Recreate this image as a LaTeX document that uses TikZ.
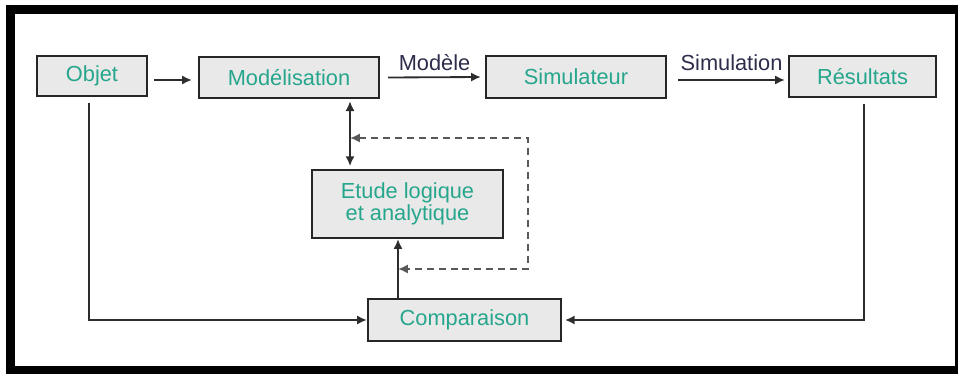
\documentclass[tikz,border=0pt]{standalone}
\usepackage{fontspec}
\setmainfont{Liberation Sans}
\usepackage{xcolor}
\usetikzlibrary{arrows.meta}
\definecolor{texte}{RGB}{38,166,140}
\definecolor{fond}{RGB}{233,233,233}
\definecolor{trait}{RGB}{45,45,45}
\definecolor{etiq}{RGB}{45,45,75}
\begin{document}
\begin{tikzpicture}[x=0.025cm,y=-0.025cm,
  bloc/.style={draw=black!85,line width=1.5pt,fill=fond,inner sep=0pt,text=texte,
    font=\fontsize{15.5}{15.6}\selectfont,align=center},
  arr/.style={draw=trait,line width=1.3pt,-{Latex[length=7pt,width=6.5pt]}},
  arrd/.style={arr,{Latex[length=7pt,width=6.5pt]}-{Latex[length=7pt,width=6.5pt]}},
  pointill/.style={arrd,draw=black!65,dash pattern=on 5pt off 3.5pt},
  etiquette/.style={inner sep=0pt,text=etiq,font=\fontsize{15.5}{18}\selectfont}]
\clip (0,0) rectangle (958,374);
\draw [line width=5.7pt] (10.5,9.5) rectangle (959,370.5);
\node [bloc,minimum width=2.75cm,minimum height=1cm] (objet) at (92,76) {Objet};
\node [bloc,minimum width=4.5cm,minimum height=1.025cm] (model) at (289,77.5) {Modélisation};
\node [bloc,minimum width=4.5cm,minimum height=1.05cm] (simu) at (576,77) {Simulateur};
\node [bloc,minimum width=3.675cm,minimum height=1.025cm] (result) at (862.5,76.5) {Résultats};
\node [bloc,minimum width=4.775cm,minimum height=1.7cm] (etude) at (407.5,204) {Etude logique\\et analytique};
\node [bloc,minimum width=4.825cm,minimum height=1.05cm] (compar) at (464.5,320) {Comparaison};
\coordinate (colO) at (89,0);
\coordinate (colA) at (350,0);
\coordinate (colB) at (398,0);
\coordinate (colD) at (528,0);
\coordinate (colR) at (864,0);
\coordinate (rowE) at (0,138);
\coordinate (rowF) at (0,269);
\draw [arr] ([shift={(6,4)}]objet.east) -- ([shift={(-6,2.5)}]model.west);
\draw [arr] ([shift={(8,0)}]model.east) -- ([shift={(-4,0)}]simu.west)
  node [etiquette,midway,above=4pt] {Modèle};
\draw [arr] ([shift={(11,3)}]simu.east) -- ([shift={(-3,3.5)}]result.west)
  node [etiquette,midway,above=6pt] {Simulation};
\draw [arrd,shorten <=1.5pt,shorten >=2pt] (model.south -| colA) -- (etude.north -| colA);
\draw [arr] (compar.north -| colB) -- (etude.south -| colB);
\draw [pointill] (colA |- rowE) -- (colD |- rowE) -- (colD |- rowF) -- (colB |- rowF);
\draw [arr,shorten <=4.5pt] (objet.south -| colO) -- (colO |- compar.west) -- (compar.west);
\draw [arr,shorten <=4.5pt] (result.south -| colR) -- (colR |- compar.east) -- ([xshift=2]compar.east);
\end{tikzpicture}
\end{document}
